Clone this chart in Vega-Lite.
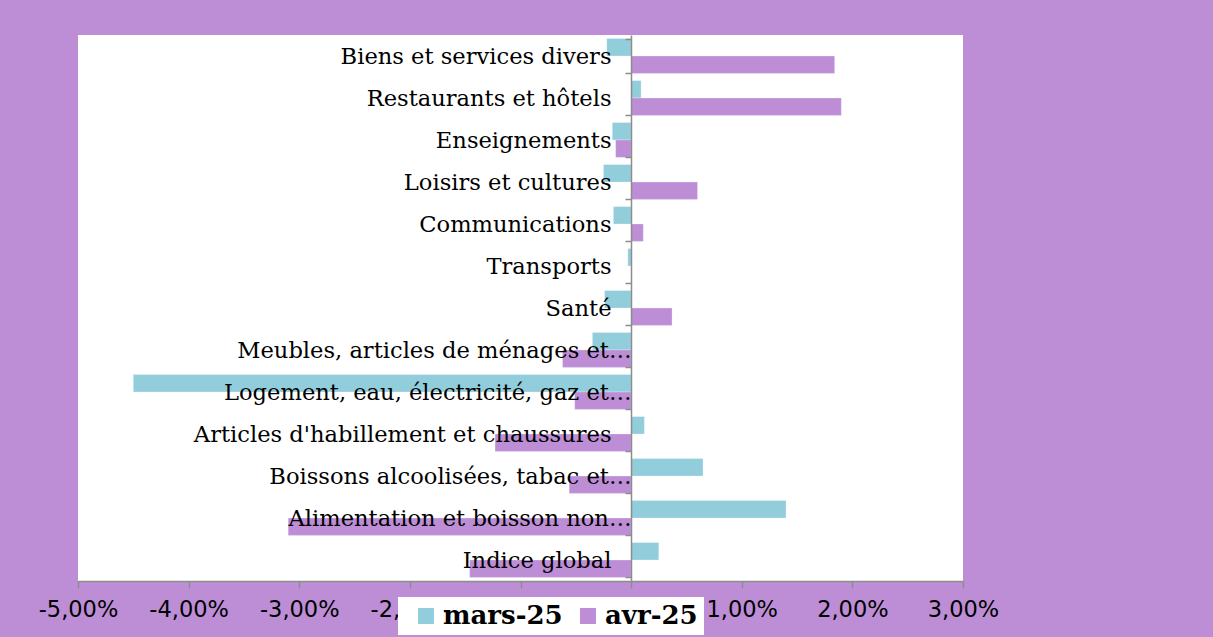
{
  "$schema": "https://vega.github.io/schema/vega-lite/v6.json",
  "width": 885,
  "height": 546,
  "autosize": {"type": "none"},
  "padding": {"left": 78, "top": 35, "right": 250, "bottom": 56},
  "background": "#BD8ED6",
  "view": {"fill": "#FFFFFF", "stroke": null},
  "config": {
    "locale": {"number": {"decimal": ",", "thousands": " ", "grouping": [3], "currency": ["", " €"], "minus": "-"}}
  },
  "data": {
    "values": [
      {"cat": "Biens et services divers", "series": "mars-25", "v": -0.0022},
      {"cat": "Biens et services divers", "series": "avr-25", "v": 0.0184},
      {"cat": "Restaurants et hôtels", "series": "mars-25", "v": 0.0009},
      {"cat": "Restaurants et hôtels", "series": "avr-25", "v": 0.019},
      {"cat": "Enseignements", "series": "mars-25", "v": -0.0017},
      {"cat": "Enseignements", "series": "avr-25", "v": -0.0014},
      {"cat": "Loisirs et cultures", "series": "mars-25", "v": -0.0025},
      {"cat": "Loisirs et cultures", "series": "avr-25", "v": 0.006},
      {"cat": "Communications", "series": "mars-25", "v": -0.0016},
      {"cat": "Communications", "series": "avr-25", "v": 0.0011},
      {"cat": "Transports", "series": "mars-25", "v": -0.0003},
      {"cat": "Transports", "series": "avr-25", "v": 0.0},
      {"cat": "Santé", "series": "mars-25", "v": -0.0024},
      {"cat": "Santé", "series": "avr-25", "v": 0.0037},
      {"cat": "Meubles, articles de ménages et…", "series": "mars-25", "v": -0.0035},
      {"cat": "Meubles, articles de ménages et…", "series": "avr-25", "v": -0.0062},
      {"cat": "Logement, eau, électricité, gaz et…", "series": "mars-25", "v": -0.045},
      {"cat": "Logement, eau, électricité, gaz et…", "series": "avr-25", "v": -0.0051},
      {"cat": "Articles d'habillement et chaussures", "series": "mars-25", "v": 0.0012},
      {"cat": "Articles d'habillement et chaussures", "series": "avr-25", "v": -0.0123},
      {"cat": "Boissons alcoolisées, tabac et…", "series": "mars-25", "v": 0.0065},
      {"cat": "Boissons alcoolisées, tabac et…", "series": "avr-25", "v": -0.0056},
      {"cat": "Alimentation et boisson non…", "series": "mars-25", "v": 0.014},
      {"cat": "Alimentation et boisson non…", "series": "avr-25", "v": -0.031},
      {"cat": "Indice global", "series": "mars-25", "v": 0.0025},
      {"cat": "Indice global", "series": "avr-25", "v": -0.0146}
    ]
  },
  "mark": {"type": "bar", "stroke": "#FFFFFF", "strokeOpacity": 0.5, "strokeWidth": 0.5},
  "encoding": {
    "y": {
      "field": "cat",
      "type": "nominal",
      "sort": ["Biens et services divers", "Restaurants et hôtels", "Enseignements", "Loisirs et cultures", "Communications", "Transports", "Santé", "Meubles, articles de ménages et…", "Logement, eau, électricité, gaz et…", "Articles d'habillement et chaussures", "Boissons alcoolisées, tabac et…", "Alimentation et boisson non…", "Indice global"],
      "scale": {"paddingInner": 0.17, "paddingOuter": 0.085},
      "axis": {
        "title": null,
        "offset": -553,
        "zindex": 1,
        "domainColor": "#8C8C8C",
        "domainWidth": 1.5,
        "tickBand": "extent",
        "tickColor": "#8C8C8C",
        "tickWidth": 1.5,
        "tickSize": 6,
        "labelPadding": {"condition": {"test": "indexof(datum.label, '…') >= 0", "value": -6}, "value": 14},
        "labelLimit": 0,
        "labelOverlap": false,
        "labelFont": "DejaVu Serif",
        "labelFontSize": 22.6,
        "labelColor": "#000000",
        "grid": false
      }
    },
    "yOffset": {"field": "series", "type": "nominal", "sort": ["mars-25", "avr-25"]},
    "x": {
      "field": "v",
      "type": "quantitative",
      "scale": {"domain": [-0.05, 0.03], "nice": false, "zero": false},
      "axis": {
        "title": null,
        "values": [-0.05, -0.04, -0.03, -0.02, -0.01, 0, 0.01, 0.02, 0.03],
        "format": ".2%",
        "grid": false,
        "labelOverlap": false,
        "labelFlush": false,
        "domainColor": "#8C8C8C",
        "domainWidth": 1.5,
        "tickColor": "#8C8C8C",
        "tickWidth": 1.5,
        "tickSize": 7,
        "labelPadding": 10,
        "labelFont": "DejaVu Sans",
        "labelFontSize": 22.5,
        "labelColor": "#000000"
      }
    },
    "color": {
      "field": "series",
      "type": "nominal",
      "scale": {"domain": ["mars-25", "avr-25"], "range": ["#92CDDC", "#BD8ED6"]},
      "legend": {
        "title": null,
        "orient": "none",
        "legendX": 320,
        "legendY": 562,
        "direction": "horizontal",
        "columns": 2,
        "fillColor": "#FFFFFF",
        "padding": 6,
        "symbolOffset": 9,
        "symbolType": "square",
        "symbolSize": 256,
        "symbolStrokeWidth": 0,
        "symbolOpacity": 1,
        "labelFont": "DejaVu Serif",
        "labelFontWeight": "bold",
        "labelFontSize": 26,
        "labelColor": "#000000",
        "labelOffset": 4,
        "labelLimit": 0,
        "columnPadding": 3
      }
    }
  }
}
